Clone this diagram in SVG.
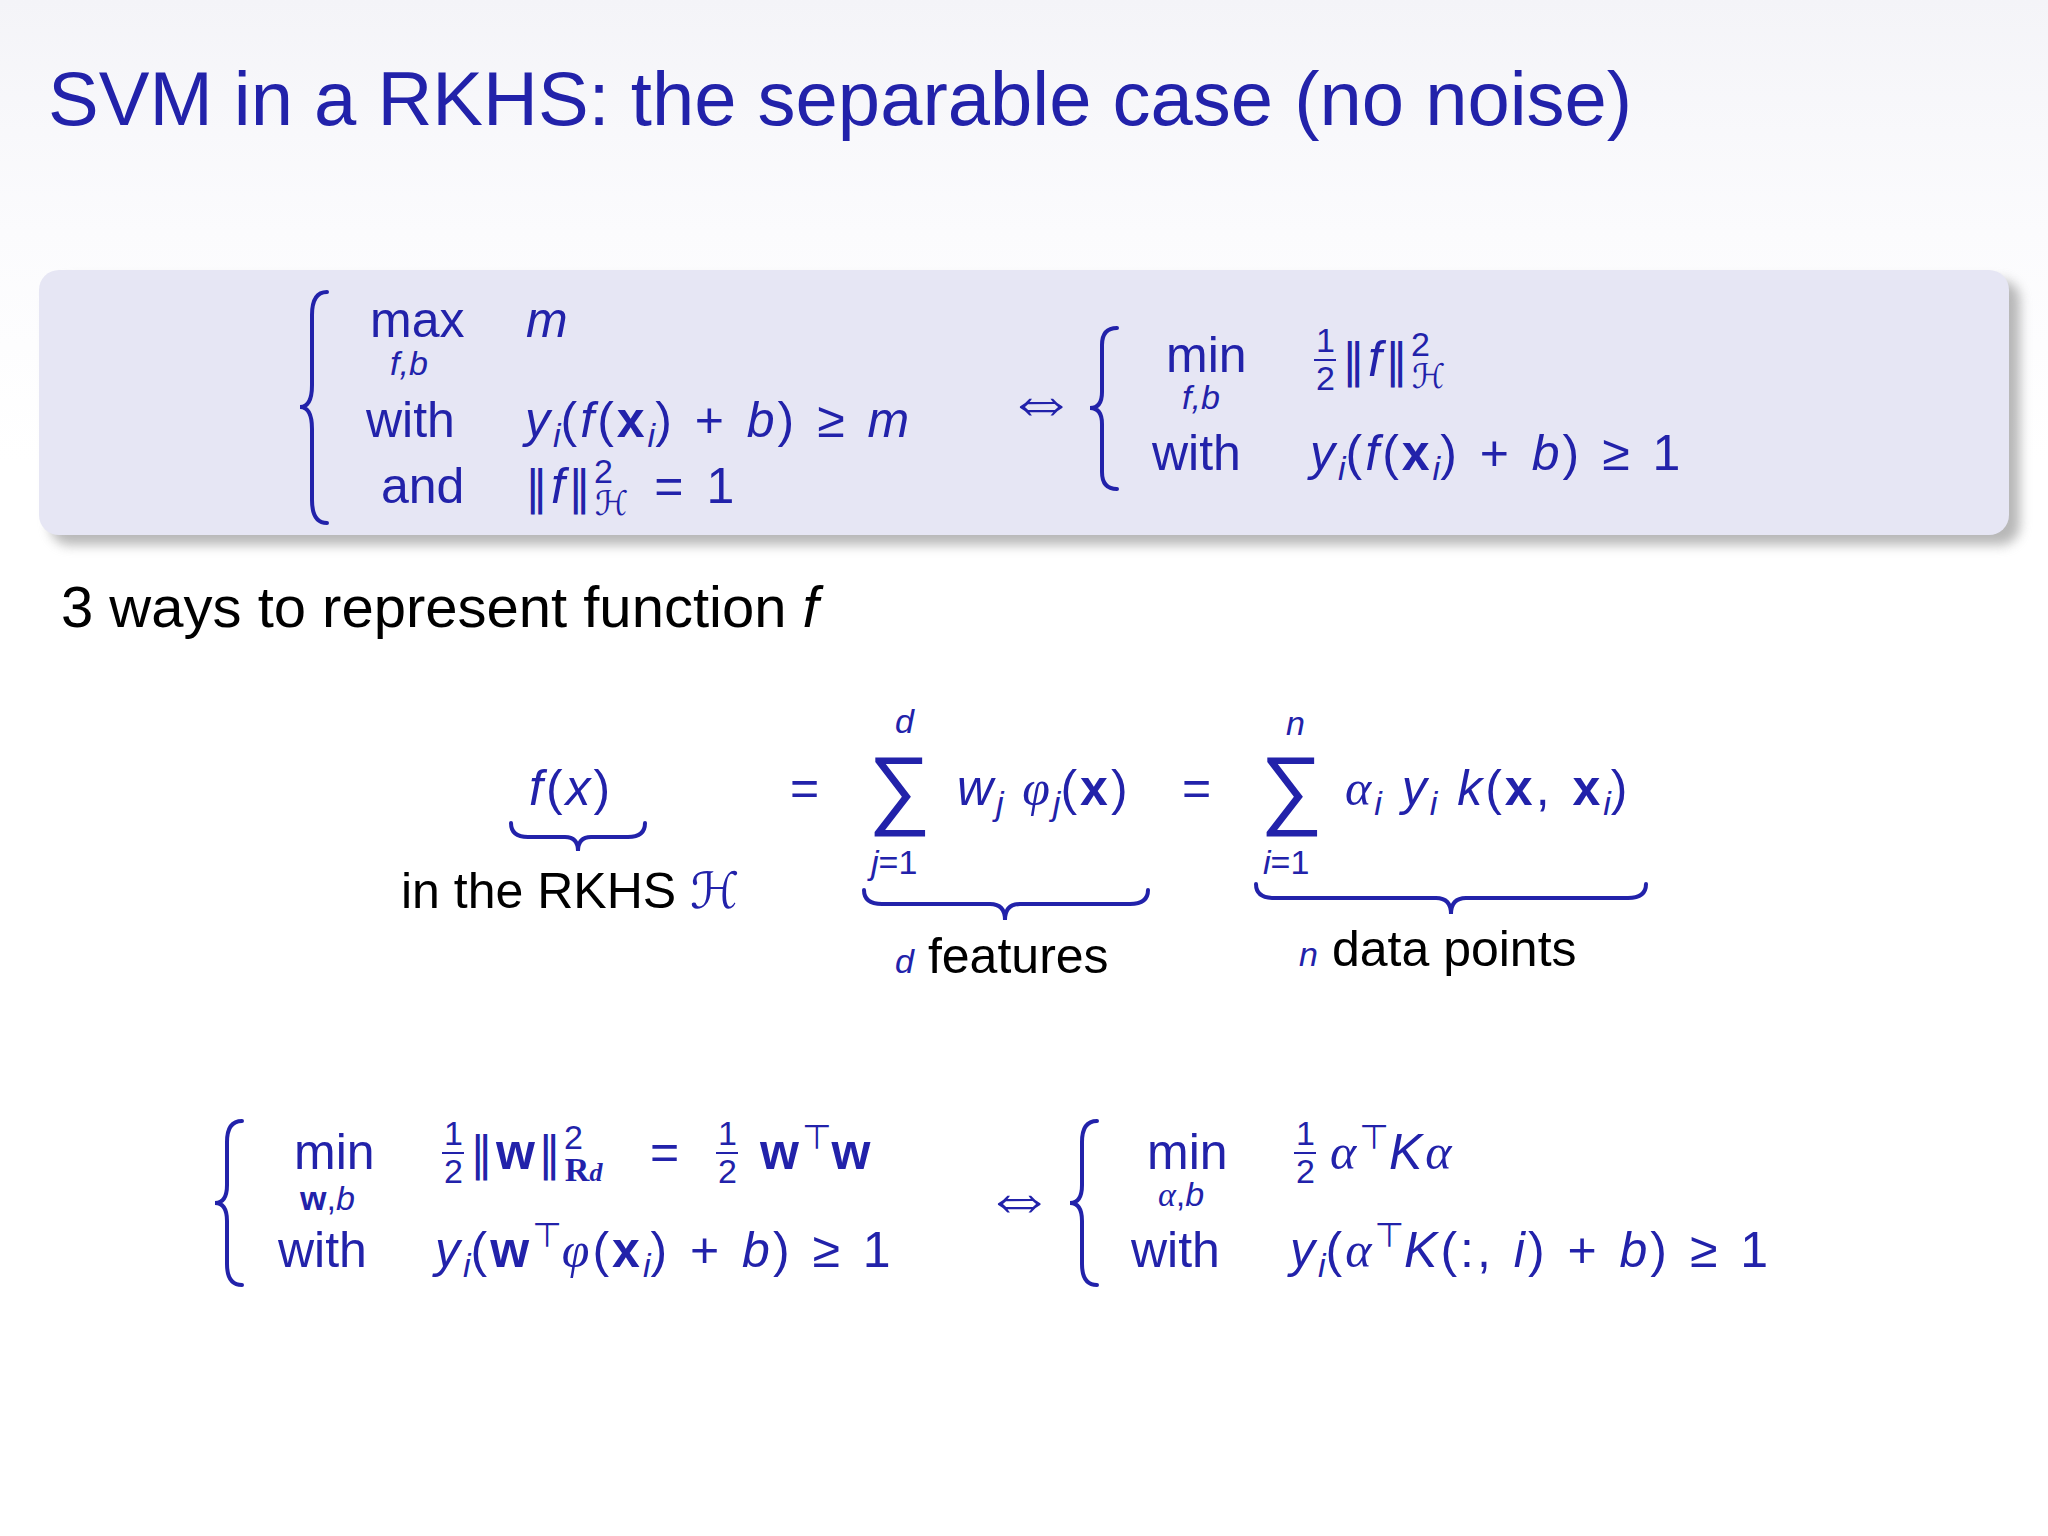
<svg xmlns="http://www.w3.org/2000/svg" width="2048" height="1536" viewBox="0 0 2048 1536">
<defs>
<linearGradient id="bg" x1="0" y1="0" x2="0" y2="1"><stop offset="0" stop-color="#f4f4f8"/><stop offset="0.15" stop-color="#fbfbfd"/><stop offset="0.3" stop-color="#ffffff"/></linearGradient>
<filter id="sh" x="-5%" y="-10%" width="110%" height="130%"><feGaussianBlur stdDeviation="6"/></filter>
<style>
text{font-family:"Liberation Sans","DejaVu Sans",sans-serif;fill:#2222aa;font-size:50px}
.m{letter-spacing:3px;word-spacing:3px}
.i{font-style:italic}
.b{font-weight:bold}
.s{font-size:34px;letter-spacing:0}
.n{font-family:"DejaVu Sans",sans-serif;font-size:46px}
.k{fill:#000}
.eq{font-size:72px}
.br{fill:none;stroke:#2222aa;stroke-width:4;stroke-linecap:round}
</style>
</defs>
<rect width="2048" height="1536" fill="url(#bg)"/>
<text x="48" y="125" style="font-size:76px">SVM in a RKHS: the separable case (no noise)</text>
<rect x="50" y="280" width="1970" height="265" rx="20" fill="#888" opacity="0.6" filter="url(#sh)"/>
<rect x="39" y="270" width="1970" height="265" rx="20" fill="#e6e6f4"/>
<g id="eq1">
<path class="br" d="M327 292 Q312 292 312 315 L312 385 Q312 407 300 407 Q312 407 312 429 L312 500 Q312 523 327 523"/>
<text x="370" y="337">max</text><text x="390" y="375" class="s i">f,b</text>
<text x="526" y="337" class="i">m</text>
<text x="366" y="437">with</text>
<text x="525" y="437" class="m"><tspan class="i">y</tspan><tspan class="s i" dy="10">i</tspan><tspan dy="-10">(</tspan><tspan class="i">f</tspan>(<tspan class="b">x</tspan><tspan class="s i" dy="10">i</tspan><tspan dy="-10">) + </tspan><tspan class="i">b</tspan>) ≥ <tspan class="i">m</tspan></text>
<text x="381" y="503">and</text>
<text x="525" y="503" class="m"><tspan class="n">‖</tspan><tspan class="i">f</tspan><tspan class="n">‖</tspan><tspan class="s" dy="-20">2</tspan><tspan class="s i" dx="-18" dy="32">ℋ</tspan><tspan dy="-12" dx="6"> = 1</tspan></text>
<text x="1005" y="424" class="eq">⇔</text>
<path class="br" d="M1117 328 Q1102 328 1102 345 L1102 392 Q1102 408 1090 408 Q1102 408 1102 424 L1102 472 Q1102 489 1117 489"/>
<text x="1166" y="372">min</text><text x="1182" y="409" class="s i">f,b</text>
<text x="1316" y="352" class="s">1</text><line x1="1314" y1="360" x2="1336" y2="360" stroke="#2222aa" stroke-width="2"/><text x="1316" y="390" class="s">2</text>
<text x="1342" y="376" class="m"><tspan class="n">‖</tspan><tspan class="i">f</tspan><tspan class="n">‖</tspan><tspan class="s" dy="-20">2</tspan><tspan class="s i" dx="-18" dy="32">ℋ</tspan></text>
<text x="1152" y="470">with</text>
<text x="1310" y="470" class="m"><tspan class="i">y</tspan><tspan class="s i" dy="10">i</tspan><tspan dy="-10">(</tspan><tspan class="i">f</tspan>(<tspan class="b">x</tspan><tspan class="s i" dy="10">i</tspan><tspan dy="-10">) + </tspan><tspan class="i">b</tspan>) ≥ 1</text>
</g>
<text x="61" y="627" class="k" style="font-size:58px">3 ways to represent function <tspan class="i">f</tspan></text>
<g id="eq2">
<text x="529" y="805" class="m"><tspan class="i">f</tspan>(<tspan class="i">x</tspan>)</text>
<path class="br" d="M511 823 Q511 837 528 837 L565 837 Q578 837 578 851 Q578 837 591 837 L628 837 Q645 837 645 823"/>
<text x="401" y="908" class="k">in the RKHS <tspan class="i" fill="#2222aa">ℋ</tspan></text>
<text x="790" y="805">=</text>
<text x="868" y="818" style="font-size:88px">∑</text>
<text x="895" y="733" class="s i">d</text><text x="871" y="874" class="s"><tspan class="i">j</tspan>=1</text>
<text x="957" y="805" class="m"><tspan class="i">w</tspan><tspan class="s i" dy="10">j</tspan><tspan dy="-10" font-family="Liberation Serif" class="i"> φ</tspan><tspan class="s i" dy="10">j</tspan><tspan dy="-10">(</tspan><tspan class="b">x</tspan>)</text>
<text x="1182" y="805">=</text>
<text x="1260" y="818" style="font-size:88px">∑</text>
<text x="1286" y="735" class="s i">n</text><text x="1263" y="874" class="s"><tspan class="i">i</tspan>=1</text>
<text x="1345" y="805" class="m"><tspan class="i" font-family="Liberation Serif">α</tspan><tspan class="s i" dy="10">i</tspan><tspan dy="-10" class="i"> y</tspan><tspan class="s i" dy="10">i</tspan><tspan dy="-10" class="i"> k</tspan>(<tspan class="b">x</tspan>, <tspan class="b">x</tspan><tspan class="s i" dy="10">i</tspan><tspan dy="-10">)</tspan></text>
<path class="br" d="M864 890 Q864 904 882 904 L990 904 Q1005 904 1005 920 Q1005 904 1020 904 L1130 904 Q1148 904 1148 890"/>
<text x="895" y="973"><tspan class="s i">d</tspan><tspan class="k" dx="14">features</tspan></text>
<path class="br" d="M1256 884 Q1256 898 1274 898 L1436 898 Q1451 898 1451 914 Q1451 898 1466 898 L1628 898 Q1646 898 1646 884"/>
<text x="1299" y="966"><tspan class="s i">n</tspan><tspan class="k" dx="14">data points</tspan></text>
</g>
<g id="eq3">
<path class="br" d="M242 1121 Q227 1121 227 1142 L227 1185 Q227 1203 215 1203 Q227 1203 227 1221 L227 1264 Q227 1285 242 1285"/>
<text x="294" y="1169">min</text><text x="300" y="1210" class="s"><tspan class="b">w</tspan>,<tspan class="i">b</tspan></text>
<text x="444" y="1145" class="s">1</text><line x1="442" y1="1153" x2="464" y2="1153" stroke="#2222aa" stroke-width="2"/><text x="444" y="1183" class="s">2</text>
<text x="470" y="1169" class="m"><tspan class="n">‖</tspan><tspan class="b">w</tspan><tspan class="n">‖</tspan><tspan class="s" dy="-20">2</tspan><tspan class="s" dx="-18" dy="32" font-family="Liberation Serif" font-weight="bold">R<tspan class="i" font-size="26px">d</tspan></tspan></text>
<text x="650" y="1169">=</text>
<text x="718" y="1145" class="s">1</text><line x1="716" y1="1153" x2="738" y2="1153" stroke="#2222aa" stroke-width="2"/><text x="718" y="1183" class="s">2</text>
<text x="760" y="1169" class="m"><tspan class="b">w</tspan><tspan class="s" dy="-20">⊤</tspan><tspan class="b" dy="20">w</tspan></text>
<text x="278" y="1267">with</text>
<text x="435" y="1267" class="m"><tspan class="i">y</tspan><tspan class="s i" dy="10">i</tspan><tspan dy="-10">(</tspan><tspan class="b">w</tspan><tspan class="s" dy="-20">⊤</tspan><tspan dy="20" class="i" font-family="Liberation Serif">φ</tspan>(<tspan class="b">x</tspan><tspan class="s i" dy="10">i</tspan><tspan dy="-10">) + </tspan><tspan class="i">b</tspan>) ≥ 1</text>
<text x="983" y="1221" class="eq">⇔</text>
<path class="br" d="M1097 1121 Q1082 1121 1082 1142 L1082 1185 Q1082 1203 1070 1203 Q1082 1203 1082 1221 L1082 1264 Q1082 1285 1097 1285"/>
<text x="1147" y="1169">min</text><text x="1158" y="1206" class="s"><tspan class="i" font-family="Liberation Serif">α</tspan>,<tspan class="i">b</tspan></text>
<text x="1296" y="1145" class="s">1</text><line x1="1294" y1="1153" x2="1316" y2="1153" stroke="#2222aa" stroke-width="2"/><text x="1296" y="1183" class="s">2</text>
<text x="1330" y="1169" class="m"><tspan class="i" font-family="Liberation Serif">α</tspan><tspan class="s" dy="-20">⊤</tspan><tspan class="i" dy="20">K</tspan><tspan class="i" font-family="Liberation Serif">α</tspan></text>
<text x="1131" y="1267">with</text>
<text x="1290" y="1267" class="m"><tspan class="i">y</tspan><tspan class="s i" dy="10">i</tspan><tspan dy="-10">(</tspan><tspan class="i" font-family="Liberation Serif">α</tspan><tspan class="s" dy="-20">⊤</tspan><tspan class="i" dy="20">K</tspan>(:, <tspan class="i">i</tspan>) + <tspan class="i">b</tspan>) ≥ 1</text>
</g>
</svg>
